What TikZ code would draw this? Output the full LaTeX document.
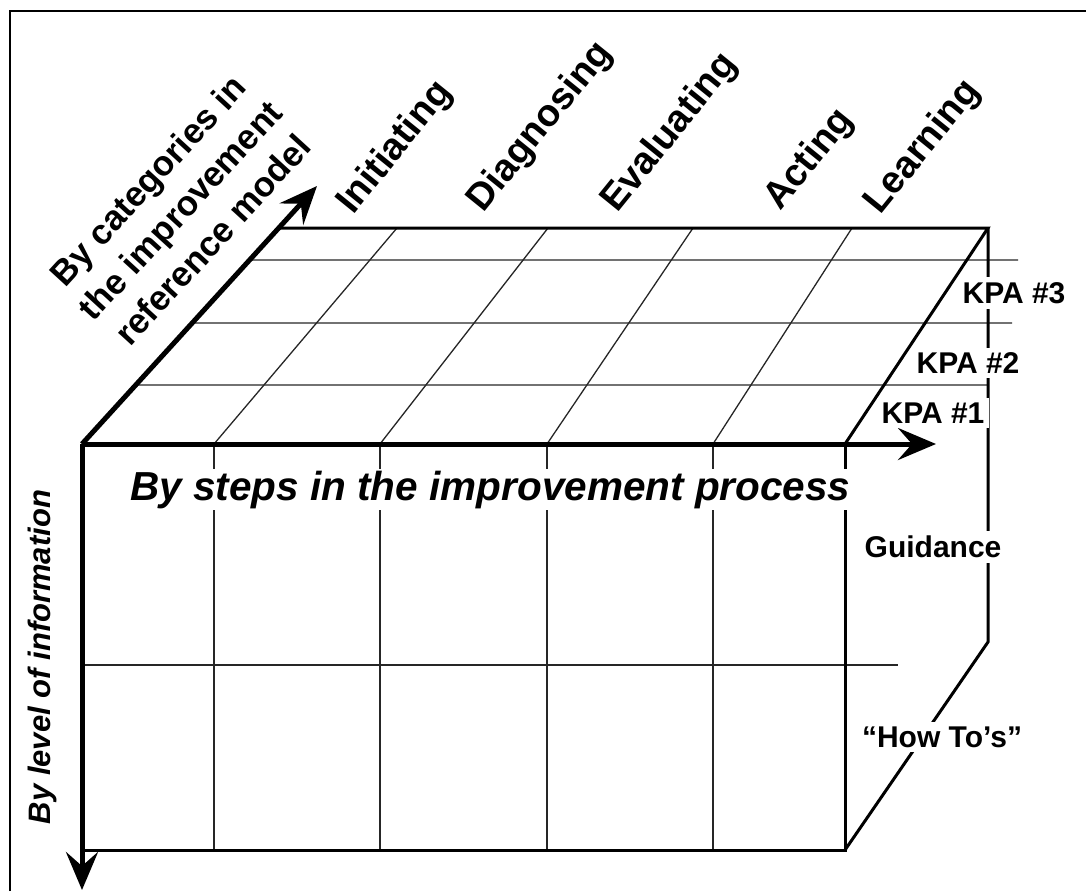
\documentclass[tikz,border=0pt]{standalone}
\usepackage{fontspec}
\setmainfont{Liberation Sans}
\usetikzlibrary{arrows.meta,calc}
\begin{document}
\begin{tikzpicture}[x=1pt,y=-1pt,
  frameln/.style={line width=2pt},
  thickax/.style={line width=5pt},
  edge/.style={line width=3pt},
  gridln/.style={line width=1.3pt, black!85},
  arr/.style={-{Stealth[length=38pt,width=32pt,inset=14pt]}},
  toplab/.style={font=\fontsize{38}{44}\selectfont\bfseries, rotate=51, anchor=base west, inner sep=0pt},
  sidelab/.style={font=\fontsize{30}{34}\selectfont\bfseries, fill=white, inner sep=5pt},
  axlab/.style={font=\fontsize{40.5}{46}\selectfont\bfseries\itshape},
]
\useasboundingbox (0,0) rectangle (1086,891);
% frame
\coordinate (FrBL) at (10,891);
\coordinate (FrTL) at (10,11);
\coordinate (FrTR) at (1086,11);
\draw[frameln] (FrBL) -- (FrTL) -- (FrTR);
% cube corners
\coordinate (FL) at (82,444);
\coordinate (FR) at (845,444);
\coordinate (BL) at (277,228);
\coordinate (BR) at (988,228);
\coordinate (FBL) at (82,850);
\coordinate (FBR) at (845,850);
\coordinate (SR) at (988,642);
\coordinate (ArrX) at (936,444);
\coordinate (ArrY) at (82,890);
\coordinate (ArrZ) at (317,186);
% front face grid
\foreach \i/\x in {1/214,2/380,3/547,4/713}{
  \coordinate (F\i) at (\x,444);
  \coordinate (D\i) at (\x,850);
  \draw[gridln] (F\i) -- (D\i);
}
\coordinate (M1) at (84,665);
\coordinate (M2) at (898,665);
\draw[gridln] (M1) -- (M2);
% top face grid
\foreach \i/\x in {1/397,2/548,3/693,4/852}{
  \coordinate (B\i) at (\x,228);
  \draw[gridln] (F\i) -- (B\i);
}
\coordinate (H1L) at ($(FL)!0.852!(BL)$);
\coordinate (H1R) at (1018,260);
\coordinate (H2L) at ($(FL)!0.560!(BL)$);
\coordinate (H2R) at (1012,323);
\coordinate (H3L) at ($(FL)!0.273!(BL)$);
\coordinate (H3R) at (987,385);
\draw[gridln] (H1L) -- (H1R);
\draw[gridln] (H2L) -- (H2R);
\draw[gridln] (H3L) -- (H3R);
% cube edges
\draw[edge] (BL) -- (BR) -- (FR);
\draw[edge] (FR) -- (FBR) -- (FBL);
\draw[edge] (BR) -- (SR) -- (FBR);
% axes
\draw[thickax,arr] (FL) -- (ArrZ);
\draw[thickax,arr] (FL) -- (ArrX);
\draw[thickax,arr] (FL) -- (ArrY);
% labels
\node[toplab] (lInit) at (353,216) {Initiating};
\node[toplab] (lDiag) at (483,214) {Diagnosing};
\node[toplab] (lEval) at (617,214) {Evaluating};
\node[toplab] (lAct)  at (780,212) {Acting};
\node[toplab] (lLearn) at (880,216) {Learning};
\node[sidelab] (k3) at (1014,293) {KPA \#3};
\node[sidelab] (k2) at (968,363) {KPA \#2};
\node[sidelab] (k1) at (933,413) {KPA \#1};
\node[sidelab] (guid) at (933,547) {Guidance};
\node[sidelab] (howto) at (942,737) {“How To’s”};
\node[axlab, fill=white, inner sep=2pt, anchor=base west] (steps) at (128,500) {By steps in the improvement process};
\node[font=\fontsize{31}{34}\selectfont\bfseries\itshape, rotate=90, anchor=base, inner sep=0pt] (level) at (50,657) {By level of information};
\node[font=\fontsize{35}{44}\selectfont\bfseries, rotate=47.5, align=center, inner sep=0pt] (cats) at (180,210) {By categories in\\the improvement\\reference model};
\end{tikzpicture}
\end{document}
